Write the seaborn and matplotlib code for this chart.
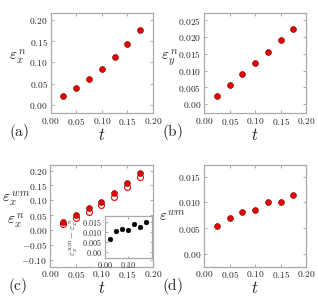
import numpy as np
import pandas as pd
import matplotlib
matplotlib.use("Agg")
import matplotlib.pyplot as plt
import seaborn as sns

# datos
t = [0.025, 0.05, 0.075, 0.10, 0.125, 0.15, 0.175]
eps_x_n = [0.0204, 0.0405, 0.0612, 0.0855, 0.1120, 0.1435, 0.1773]
eps_y_n = [0.0024, 0.0057, 0.0090, 0.0124, 0.0157, 0.0191, 0.0225]
eps_x_wm = [0.0266, 0.0500, 0.0728, 0.0955, 0.1255, 0.1565, 0.1910]
eps_x_diff = [0.0064, 0.0103, 0.0112, 0.0106, 0.0137, 0.0126, 0.0147]
eps_wm = [0.0055, 0.0070, 0.0081, 0.0086, 0.0100, 0.0100, 0.0114]

xticks = [0.0, 0.05, 0.10, 0.15, 0.20]
xticklabels = ["0.00", "0.05", "0.10", "0.15", "0.20"]
yticks_a = [0.0, 0.05, 0.10, 0.15, 0.20]
yticklabels_a = ["0.00", "0.05", "0.10", "0.15", "0.20"]
yticks_b = [0.0, 0.005, 0.010, 0.015, 0.020, 0.025]
yticklabels_b = ["0.00", "0.005", "0.010", "0.015", "0.020", "0.025"]
yticks_c = [-0.10, -0.05, 0.0, 0.05, 0.10, 0.15, 0.20]
yticklabels_c = ["-0.10", "-0.05", "0.00", "0.05", "0.10", "0.15", "0.20"]
yticks_d = [0.0, 0.005, 0.010, 0.015]
yticklabels_d = ["0.00", "0.005", "0.010", "0.015"]
inset_xticks = [0.0, 0.10]
inset_xticklabels = ["0.00", "0.10"]

df = pd.DataFrame({"t": t, "exn": eps_x_n, "eyn": eps_y_n, "exwm": eps_x_wm,
                   "diff": eps_x_diff, "ewm": eps_wm})

sns.set_style("ticks")
plt.rcParams["mathtext.fontset"] = "cm"
plt.rcParams["font.family"] = ["DejaVu Serif"]

rojo = "#ee0000"
gris = "#aaaaaa"


def mt(lista):
    return ["$" + s + "$" for s in lista]


def estilo(ax, fs=6.8, length=2.5):
    for sp in ax.spines.values():
        sp.set_color(gris)
        sp.set_linewidth(0.9)
        sp.set_visible(True)
    ax.tick_params(direction="in", top=True, right=True, color=gris,
                   length=length, width=0.7, labelsize=fs, pad=2)


fig = plt.figure(figsize=(3.18, 2.96), dpi=100)
ax_a = fig.add_axes([0.159, 0.618, 0.322, 0.338])
ax_b = fig.add_axes([0.642, 0.618, 0.321, 0.338])
ax_c = fig.add_axes([0.157, 0.099, 0.324, 0.344])
ax_d = fig.add_axes([0.642, 0.099, 0.321, 0.344])

pt = dict(s=18, color=rojo, edgecolor="#550000", linewidth=0.4, legend=False, zorder=3)

# (a)
sns.scatterplot(data=df, x="t", y="exn", ax=ax_a, **pt)
ax_a.set_ylim(-0.02, 0.217)
ax_a.set_yticks(yticks_a, mt(yticklabels_a))
ax_a.set_ylabel(r"$\varepsilon_x^{\,n}$", fontsize=11, rotation=0, va="center", ha="center")
ax_a.yaxis.set_label_coords(-0.32, 0.56)

# (b)
sns.scatterplot(data=df, x="t", y="eyn", ax=ax_b, **pt)
ax_b.set_ylim(-0.0027, 0.0272)
ax_b.set_yticks(yticks_b, mt(yticklabels_b))
ax_b.set_ylabel(r"$\varepsilon_y^{\,n}$", fontsize=11, rotation=0, va="center", ha="center")
ax_b.yaxis.set_label_coords(-0.34, 0.55)

# (c)
sns.scatterplot(data=df, x="t", y="exn", ax=ax_c, s=18, facecolor="white",
                edgecolor=rojo, linewidth=0.8, legend=False, zorder=3)
sns.scatterplot(data=df, x="t", y="exwm", ax=ax_c, **pt)
ax_c.set_ylim(-0.123, 0.219)
ax_c.set_yticks(yticks_c, mt(yticklabels_c))
ax_c.set_ylabel(r"$\varepsilon_x^{\,wm}$" + "\n" + r"$\varepsilon_x^{\,n}$", fontsize=11,
                rotation=0, va="center", ha="center", linespacing=1.2)
ax_c.yaxis.set_label_coords(-0.33, 0.56)

# (d)
sns.scatterplot(data=df, x="t", y="ewm", ax=ax_d, **pt)
ax_d.set_ylim(-0.0025, 0.0173)
ax_d.set_yticks(yticks_d, mt(yticklabels_d))
ax_d.set_ylabel(r"$\varepsilon^{wm}$", fontsize=11, rotation=0, va="center", ha="center")
ax_d.yaxis.set_label_coords(-0.31, 0.49)

for ax, lab in zip([ax_a, ax_b, ax_c, ax_d], ["(a)", "(b)", "(c)", "(d)"]):
    ax.set_xlim(0, 0.2)
    ax.set_xticks(xticks, mt(xticklabels))
    ax.set_xlabel(r"$t$", fontsize=12, labelpad=0)
    estilo(ax)
    ax.text(-0.31, -0.19, r"$\mathrm{" + lab + "}$", transform=ax.transAxes,
            fontsize=11, ha="center", va="center")

# recuadro interior en (c)
ins = ax_c.inset_axes([0.53, 0.09, 0.46, 0.41])
sns.scatterplot(data=df, x="t", y="diff", ax=ins, s=12, color="black",
                edgecolor="black", linewidth=0.3, legend=False, zorder=3)
ins.set_xlim(0, 0.2)
ins.set_ylim(-0.003, 0.018)
ins.set_xticks(inset_xticks, mt(inset_xticklabels))
ins.set_yticks(yticks_d, mt(yticklabels_d))
ins.set_xlabel("")
ins.set_ylabel(r"$\varepsilon_x^{\,wm}-\varepsilon_x^{\,n}$", fontsize=6.5, labelpad=1)
estilo(ins, fs=5.8, length=1.8)
ins.set_facecolor("white")

fig.savefig("out.png", dpi=100)
